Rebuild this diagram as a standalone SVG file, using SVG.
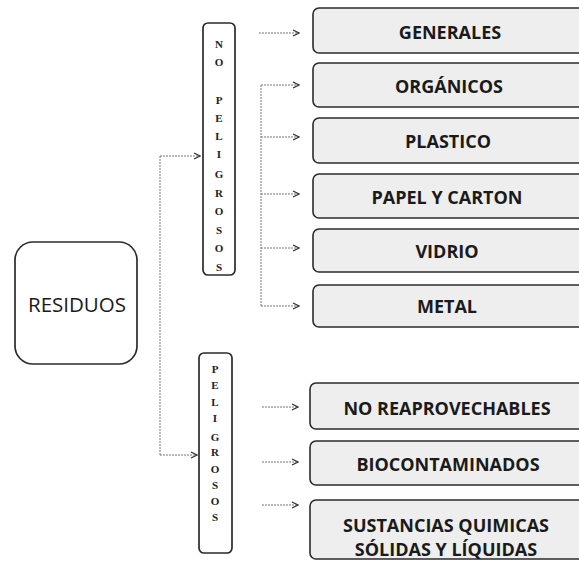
<svg xmlns="http://www.w3.org/2000/svg" width="579" height="569" viewBox="0 0 579 569">
<defs>
<marker id="ah" viewBox="0 0 8 8" refX="7" refY="4" markerWidth="8" markerHeight="8" markerUnits="userSpaceOnUse" orient="auto">
<path d="M1,1 L7,4 L1,7" fill="none" stroke="#333" stroke-width="1.3"/>
</marker>
</defs>
<style>
.box{fill:#ffffff;stroke:#2b2b2b;stroke-width:1.7}
.cat{fill:#eeeeee;stroke:#2b2b2b;stroke-width:1.6}
.lbl{font-family:"Open Sans","Liberation Sans",sans-serif;font-weight:700;font-size:18px;fill:#1a1a1a;text-anchor:middle;dominant-baseline:central}
.main{font-family:"Open Sans","Liberation Sans",sans-serif;font-weight:400;font-size:20.5px;fill:#1a1a1a;text-anchor:middle;dominant-baseline:central}
.vt{font-family:"Liberation Serif",serif;font-weight:700;font-size:11px;fill:#222;text-anchor:middle;dominant-baseline:central}
.con{fill:none;stroke:#777;stroke-width:1;stroke-dasharray:2 1}
.arr{fill:none;stroke:#777;stroke-width:1;stroke-dasharray:2 1;marker-end:url(#ah)}
</style>
<rect width="579" height="569" fill="#ffffff"/>
<g id="connectors">
<path class="con" d="M160,156 V455"/>
<path class="arr" d="M160,156 H200"/>
<path class="arr" d="M160,455 H197"/>
<path class="con" d="M261,85 V306"/>
<path class="arr" d="M259,33 H299"/>
<path class="arr" d="M261,85 H299"/>
<path class="arr" d="M261,137 H299"/>
<path class="arr" d="M261,194 H299"/>
<path class="arr" d="M261,248 H299"/>
<path class="arr" d="M261,306 H299"/>
<path class="arr" d="M262,407 H298"/>
<path class="arr" d="M262,462 H298"/>
<path class="arr" d="M262,505 H298"/>
</g>
<g id="residuos">
<rect class="box" x="15" y="242" width="122" height="122" rx="18"/>
<text class="main" x="77" y="304">RESIDUOS</text>
</g>
<g id="no-peligrosos">
<rect class="box" x="203" y="23" width="32" height="252" rx="5"/>
<text class="vt" x="219" y="44">N</text>
<text class="vt" x="219" y="62">O</text>
<text class="vt" x="219" y="100">P</text>
<text class="vt" x="219" y="118">E</text>
<text class="vt" x="219" y="136">L</text>
<text class="vt" x="219" y="154">I</text>
<text class="vt" x="219" y="174">G</text>
<text class="vt" x="219" y="193">R</text>
<text class="vt" x="219" y="211">O</text>
<text class="vt" x="219" y="230">S</text>
<text class="vt" x="219" y="248">O</text>
<text class="vt" x="219" y="267">S</text>
</g>
<g id="peligrosos">
<rect class="box" x="199" y="353" width="33" height="200" rx="5"/>
<text class="vt" x="215" y="369">P</text>
<text class="vt" x="215" y="385">E</text>
<text class="vt" x="215" y="402">L</text>
<text class="vt" x="215" y="418">I</text>
<text class="vt" x="215" y="437">G</text>
<text class="vt" x="215" y="452">R</text>
<text class="vt" x="215" y="469">O</text>
<text class="vt" x="215" y="485">S</text>
<text class="vt" x="215" y="501">O</text>
<text class="vt" x="215" y="517">S</text>
</g>
<g id="generales">
<rect class="cat" x="313" y="8" width="280" height="45" rx="6"/>
<text class="lbl" x="450" y="32">GENERALES</text>
</g>
<g id="organicos">
<rect class="cat" x="313" y="63" width="280" height="44" rx="6"/>
<text class="lbl" x="449" y="86">ORGÁNICOS</text>
</g>
<g id="plastico">
<rect class="cat" x="313" y="118" width="280" height="45" rx="6"/>
<text class="lbl" x="448" y="141">PLASTICO</text>
</g>
<g id="papel-carton">
<rect class="cat" x="313" y="174" width="280" height="44" rx="6"/>
<text class="lbl" x="447" y="197">PAPEL Y CARTON</text>
</g>
<g id="vidrio">
<rect class="cat" x="313" y="229" width="280" height="43" rx="6"/>
<text class="lbl" x="447" y="251">VIDRIO</text>
</g>
<g id="metal">
<rect class="cat" x="313" y="285" width="280" height="42" rx="6"/>
<text class="lbl" x="447" y="306">METAL</text>
</g>
<g id="no-reaprovechables">
<rect class="cat" x="310" y="383" width="280" height="46" rx="6"/>
<text class="lbl" x="447" y="408">NO REAPROVECHABLES</text>
</g>
<g id="biocontaminados">
<rect class="cat" x="310" y="441" width="280" height="44" rx="6"/>
<text class="lbl" x="448" y="464">BIOCONTAMINADOS</text>
</g>
<g id="sustancias">
<rect class="cat" x="310" y="500" width="280" height="59" rx="6"/>
<text class="lbl" x="446" y="525">SUSTANCIAS QUIMICAS</text>
<text class="lbl" x="446" y="549">SÓLIDAS Y LÍQUIDAS</text>
</g>
</svg>
